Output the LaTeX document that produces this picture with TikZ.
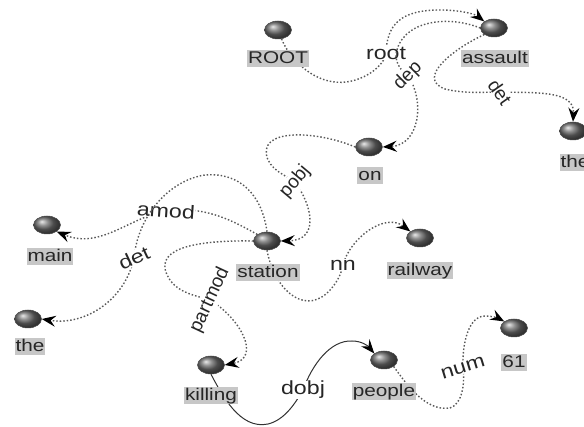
\documentclass[tikz,border=0pt]{standalone}
\usepackage{fontspec}
\setmainfont{Liberation Sans}[FakeStretch=1.22]
\newfontfamily\steepfont{Liberation Sans}
\usepackage{tikz}
\usetikzlibrary{arrows.meta,shapes.geometric}

\begin{document}
\begin{tikzpicture}[x=1pt,y=-1pt,
  ball/.style={ellipse,minimum width=27pt,minimum height=18pt,inner sep=0pt,
    ball color=gray!85!black,draw=black!70,line width=0.5pt},
  word/.style={fill=black!22,text=black!85,inner xsep=1pt,inner ysep=0.5pt,
    text height=12.5pt,text depth=3.5pt,font=\fontsize{17}{20}\selectfont},
  rel/.style={fill=white,text=black!85,inner sep=0.5pt,font=\fontsize{19}{22}\selectfont},
  steep/.style={rel,font=\fontsize{19}{22}\steepfont},
  arc/.style={black!65,line width=1.4pt,dash pattern=on 1.5pt off 2pt,
    -{Stealth[length=14pt,width=11pt,inset=5pt,color=black]}},
  obj/.style={arc,solid,black!80,line width=1pt}]
\clip (0,0) rectangle (584,427);

% Balls
\node[ball] (root) at (278,30) {};
\node[ball] (assault) at (494,28) {};
\node[ball] (the1) at (573,131) {};
\node[ball] (on) at (369,147) {};
\node[ball] (main) at (47,225) {};
\node[ball] (station) at (267,241) {};
\node[ball] (railway) at (420,238) {};
\node[ball] (the2) at (28,319) {};
\node[ball] (killing) at (211,365) {};
\node[ball] (people) at (384,360) {};
\node[ball] (sixtyone) at (514,328) {};

% Arcs
\draw[arc] (root) .. controls (292,65) and (330,100) .. (372,72)
  .. controls (380,66) and (385,60) .. (386,53) node[rel] (l-root) {root}
  .. controls (387,25) and (400,10) .. (440,10)
  .. controls (460,10) and (475,14) .. (assault.north west);
\draw[arc] (assault.west) .. controls (445,14) and (400,22) .. (396,55)
  .. controls (396,65) and (402,71) .. (408,76) node[steep,rotate=45] (l-dep) {dep}
  .. controls (425,100) and (420,145) .. (on.east);
\draw[arc] (assault.south west) .. controls (455,48) and (415,78) .. (445,89)
  .. controls (465,94) and (485,92) .. (500,92) node[steep,rotate=-55] (l-det1) {det}
  .. controls (535,93) and (575,90) .. (the1.north);
\draw[arc] (on.west) .. controls (315,130) and (255,128) .. (268,160)
  .. controls (274,172) and (287,176) .. (295,182) node[steep,rotate=50] (l-pobj) {pobj}
  .. controls (312,205) and (320,240) .. (station.east);
\draw[arc] (station.north west) .. controls (235,222) and (205,205) .. (166,211)
  node[rel,rotate=-4] (l-amod) {amod}
  .. controls (130,217) and (100,250) .. (main.south east);
\draw[arc] (station.north) .. controls (262,195) and (240,172) .. (205,175)
  .. controls (170,180) and (138,215) .. (134,258) node[rel,rotate=25] (l-det2) {det}
  .. controls (125,300) and (85,326) .. (the2.east);
\draw[arc] (station.west) .. controls (190,240) and (150,250) .. (170,280)
  .. controls (180,294) and (198,296) .. (210,300) node[steep,rotate=65] (l-partmod) {partmod}
  .. controls (240,318) and (262,358) .. (killing.east);
\draw[arc] (station.south) .. controls (274,288) and (302,314) .. (326,294)
  .. controls (336,285) and (341,275) .. (343,265) node[rel] (l-nn) {nn}
  .. controls (350,238) and (385,212) .. (railway.north west);
\draw[obj] (killing.south) .. controls (222,395) and (240,430) .. (268,424)
  .. controls (285,420) and (296,402) .. (303,390) node[rel] (l-dobj) {dobj}
  .. controls (312,365) and (330,340) .. (352,341)
  .. controls (362,341) and (368,346) .. (people.north west);
\draw[arc] (people.south east) .. controls (405,382) and (425,412) .. (450,408)
  .. controls (462,404) and (465,385) .. (463,368) node[rel,rotate=17] (l-num) {num}
  .. controls (462,345) and (468,316) .. (485,316)
  .. controls (492,316) and (498,318) .. (sixtyone.north west);

% Words
\node[word] (w-root) at (278,59) {ROOT};
\node[word] (w-assault) at (495,59) {assault};
\node[word] (w-the1) at (575,163) {the};
\node[word] (w-on) at (370,176) {on};
\node[word] (w-main) at (50,257) {main};
\node[word] (w-station) at (268,273) {station};
\node[word] (w-railway) at (420,271) {railway};
\node[word] (w-the2) at (30,347) {the};
\node[word] (w-killing) at (211,396) {killing};
\node[word] (w-people) at (384,392) {people};
\node[word] (w-sixtyone) at (514,363) {61};
\end{tikzpicture}
\end{document}
